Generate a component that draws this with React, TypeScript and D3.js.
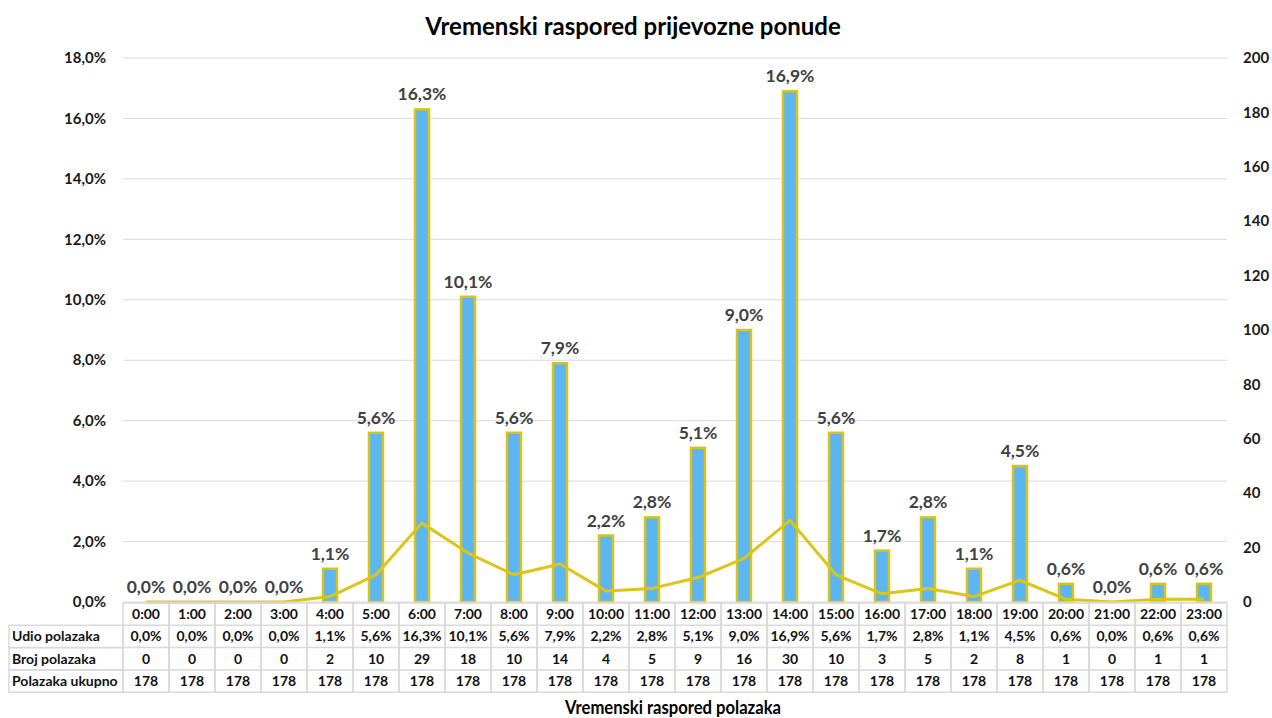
import React from 'react';
import * as d3 from 'd3';

const hours = ['0:00', '1:00', '2:00', '3:00', '4:00', '5:00', '6:00', '7:00', '8:00', '9:00', '10:00', '11:00',
    '12:00', '13:00', '14:00', '15:00', '16:00', '17:00', '18:00', '19:00', '20:00', '21:00', '22:00', '23:00'];
const udio = [0, 0, 0, 0, 1.1, 5.6, 16.3, 10.1, 5.6, 7.9, 2.2, 2.8, 5.1, 9.0, 16.9, 5.6, 1.7, 2.8, 1.1, 4.5, 0.6, 0, 0.6, 0.6];
const broj = [0, 0, 0, 0, 2, 10, 29, 18, 10, 14, 4, 5, 9, 16, 30, 10, 3, 5, 2, 8, 1, 0, 1, 1];
const ukupno = [178, 178, 178, 178, 178, 178, 178, 178, 178, 178, 178, 178, 178, 178, 178, 178, 178, 178, 178, 178, 178, 178, 178, 178];
const leftTicks = [0, 2, 4, 6, 8, 10, 12, 14, 16, 18];
const rightTicks = [0, 20, 40, 60, 80, 100, 120, 140, 160, 180, 200];
const rowLabels = ['Udio polazaka', 'Broj polazaka', 'Polazaka ukupno'];

const W = 1272;
const H = 718;
const plot = { left: 123, right: 1227, top: 58, bottom: 602 };
const FONT = 'Lato, "Open Sans", sans-serif';

const pct = (v: number) => d3.format('.1f')(v).replace('.', ',') + '%';

export default function App() {
    const x = d3.scaleBand().domain(hours).range([plot.left, plot.right]);
    const yL = d3.scaleLinear().domain([0, 18]).range([plot.bottom, plot.top]);
    const yR = d3.scaleLinear().domain([0, 200]).range([plot.bottom, plot.top]);
    const barW = 14;
    const cx = (h: string) => (x(h) as number) + x.bandwidth() / 2;

    const line = d3.line<number>()
        .x((d, i) => cx(hours[i]))
        .y(d => yR(d));

    const rowH = 22.3;
    const tableTop = plot.bottom + 1;
    const rows = [udio.map(pct), broj.map(String), ukupno.map(String)];
    const gridColor = '#d9d9d9';

    return (
        <svg width={W} height={H} style={{ position: 'absolute', left: 0, top: 0, background: '#fff' }}
            fontFamily={FONT}>
            <text x={633} y={35} textAnchor="middle" fontSize={24} fontWeight="bold" fill="#000">
                Vremenski raspored prijevozne ponude
            </text>

            {leftTicks.map(t => (
                <g key={'l' + t}>
                    {t > 0 && <line x1={plot.left} x2={plot.right} y1={yL(t)} y2={yL(t)} stroke={gridColor} strokeWidth={1} />}
                    <text x={106} y={yL(t)} dy="0.35em" textAnchor="end" fontSize={15} fontWeight="bold" fill="#1a1a1a">
                        {pct(t)}
                    </text>
                </g>
            ))}
            {rightTicks.map(t => (
                <text key={'r' + t} x={1243} y={yR(t)} dy="0.35em" textAnchor="start" fontSize={15} fontWeight="bold" fill="#1a1a1a">
                    {t}
                </text>
            ))}

            {hours.map((h, i) => {
                const top = yL(udio[i]);
                return (
                    <g key={'b' + h}>
                        {udio[i] > 0 && (
                            <rect x={cx(h) - barW / 2} y={top} width={barW} height={plot.bottom - top}
                                fill="#5bb6f2" stroke="#d9c21a" strokeWidth={2.5} />
                        )}
                        <text x={cx(h)} y={top - 9} textAnchor="middle" fontSize={17.5} fontWeight="bold" fill="#404040">
                            {pct(udio[i])}
                        </text>
                    </g>
                );
            })}

            <path d={line(broj) || ''} fill="none" stroke="#dcc418" strokeWidth={3} strokeLinejoin="round" />

            <line x1={plot.left} x2={plot.right} y1={plot.bottom} y2={plot.bottom} stroke={gridColor} strokeWidth={1} />

            {/* data table */}
            <g fontSize={14} fontWeight="bold" fill="#111">
                {hours.map((h, i) => (
                    <g key={'c' + h}>
                        <rect x={x(h)} y={tableTop} width={x.bandwidth()} height={rowH * 4}
                            fill="none" stroke={gridColor} strokeWidth={1.5} />
                        <text x={cx(h)} y={tableTop + rowH / 2} dy="0.36em" textAnchor="middle">{h}</text>
                        {rows.map((r, j) => (
                            <text key={j} x={cx(h)} y={tableTop + rowH * (j + 1.5)} dy="0.36em" textAnchor="middle">{r[i]}</text>
                        ))}
                    </g>
                ))}
                {rowLabels.map((lab, j) => (
                    <g key={lab}>
                        <rect x={9} y={tableTop + rowH * (j + 1)} width={plot.left - 9} height={rowH}
                            fill="none" stroke={gridColor} strokeWidth={1.5} />
                        <line x1={plot.left} x2={plot.right} y1={tableTop + rowH * (j + 1)} y2={tableTop + rowH * (j + 1)}
                            stroke={gridColor} strokeWidth={1.5} />
                        <text x={12} y={tableTop + rowH * (j + 1.5)} dy="0.36em">{lab}</text>
                    </g>
                ))}
            </g>

            <text x={673} y={714} textAnchor="middle" fontSize={19} fontWeight="bold" fill="#000"
                textLength={216} lengthAdjust="spacingAndGlyphs">
                Vremenski raspored polazaka
            </text>
        </svg>
    );
}
